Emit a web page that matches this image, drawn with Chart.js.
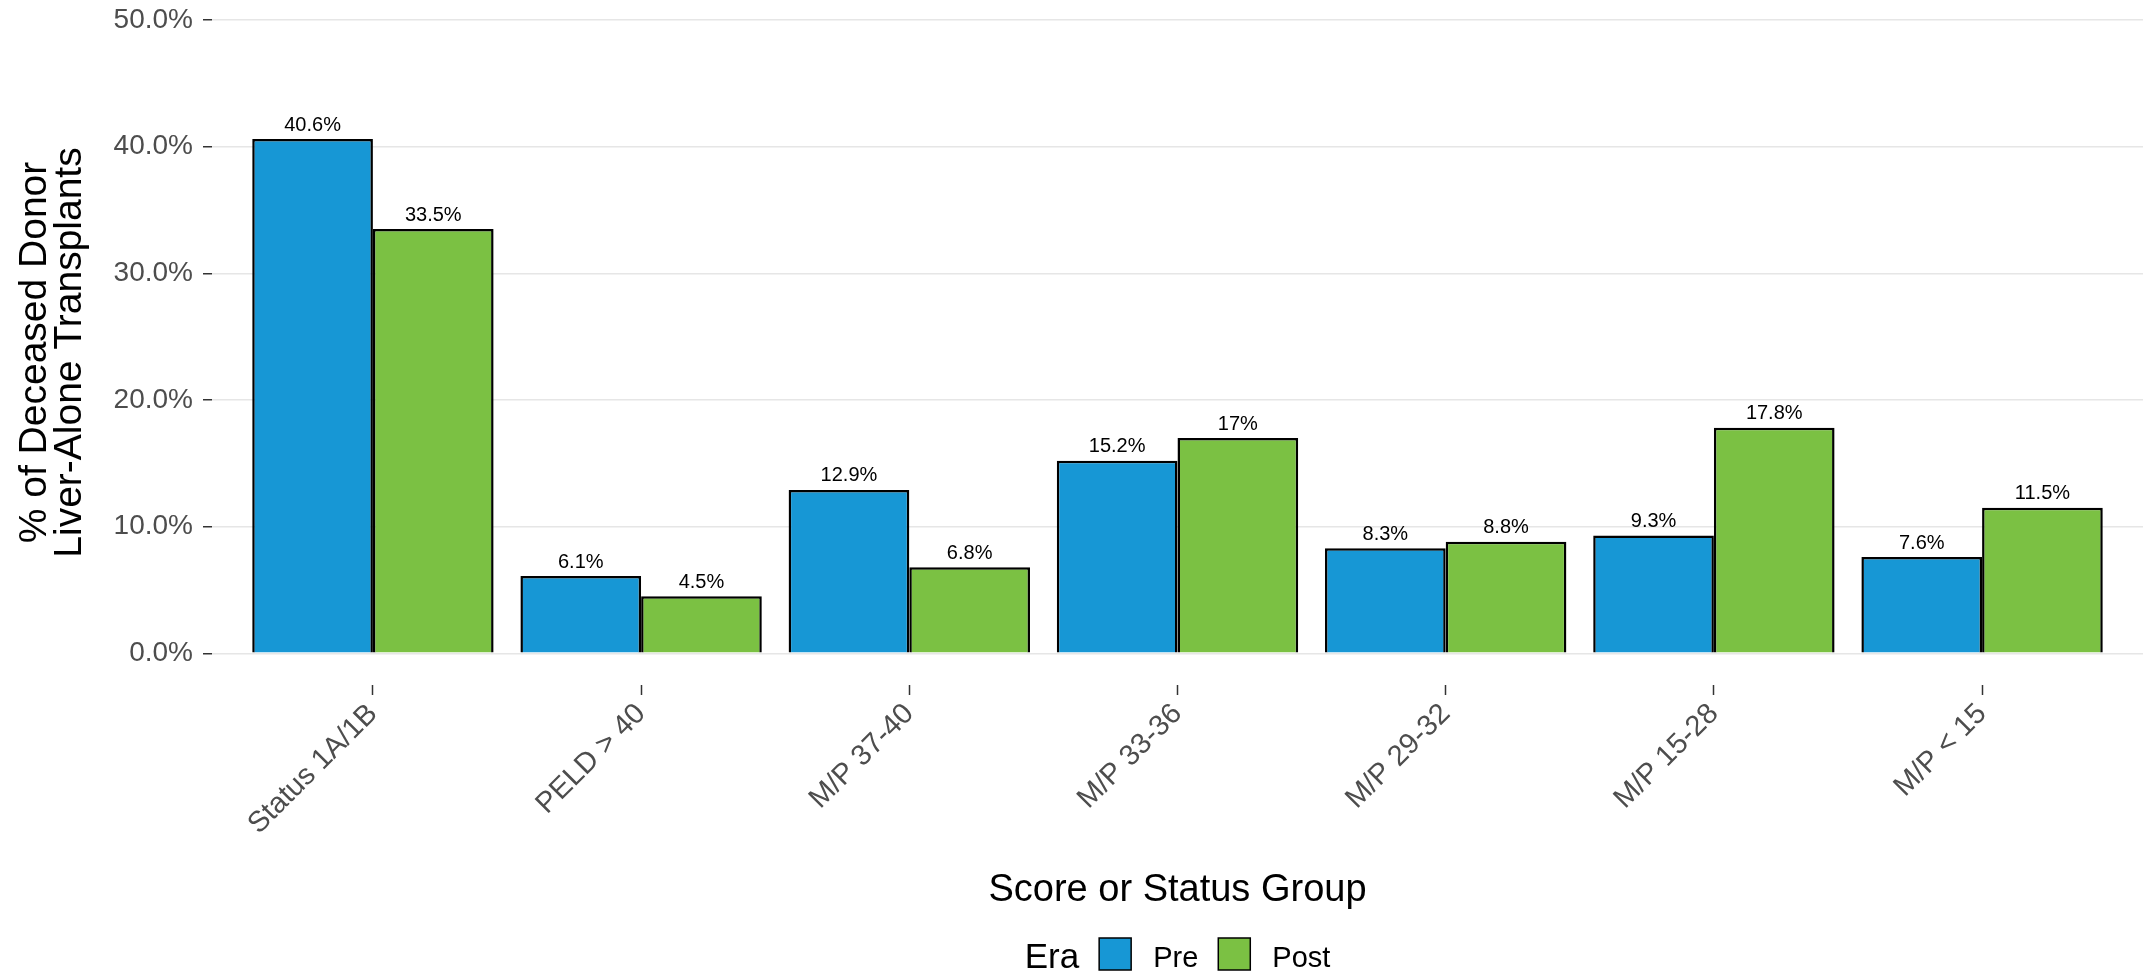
<!DOCTYPE html>
<html lang="en">
<head>
  <meta charset="UTF-8" />
  <title>Deceased Donor Liver-Alone Transplants by Score or Status Group</title>
  <style>
    html, body { margin: 0; padding: 0; background: #fff; }
    canvas { display: block; }
  </style>
</head>
<body>
  <canvas id="eraChart" width="2146" height="974"></canvas>

  <script src="https://cdn.jsdelivr.net/npm/chart.js"></script>
  <script>
    // data
    const categories = ['Status 1A/1B', 'PELD > 40', 'M/P 37-40', 'M/P 33-36', 'M/P 29-32', 'M/P 15-28', 'M/P < 15'];
    const preValues  = [40.6, 6.1, 12.9, 15.2, 8.3, 9.3, 7.6];
    const postValues = [33.5, 4.5, 6.8, 17, 8.8, 17.8, 11.5];
    const yTicks = [0, 10, 20, 30, 40, 50];

    const FONT = "'Liberation Sans', Arial, Helvetica, sans-serif";
    Chart.defaults.font.family = FONT;

    const toPoints = vals => vals.map((v, i) => ({ x: i, y: v }));
    const pctLabel = v => (Number.isInteger(v) ? v : v.toFixed(1)) + '%';

    // percentage text over each bar
    const barLabels = {
      id: 'barLabels',
      afterDatasetsDraw(chart) {
        const ctx = chart.ctx;
        ctx.save();
        ctx.font = '20px ' + FONT;
        ctx.fillStyle = '#000';
        ctx.textAlign = 'center';
        ctx.textBaseline = 'bottom';
        chart.data.datasets.forEach((ds, i) => {
          chart.getDatasetMeta(i).data.forEach((bar, j) => {
            ctx.fillText(pctLabel(ds.data[j].y), bar.x, bar.y - 4);
          });
        });
        ctx.restore();
      }
    };

    // ggplot style legend: "Era [] Pre [] Post" on one row
    const eraLegend = {
      id: 'eraLegend',
      afterDraw(chart) {
        const ctx = chart.ctx;
        const area = chart.chartArea;
        const box = 32, gapTitle = 20, gapText = 22, gapItem = 20;
        const boxTop = chart.height - 36;
        ctx.save();
        ctx.font = '35px ' + FONT;
        const titleW = ctx.measureText('Era').width;
        ctx.font = '29px ' + FONT;
        const items = chart.data.datasets.map(ds => ({ text: ds.label, color: ds.backgroundColor, w: ctx.measureText(ds.label).width }));
        let total = titleW + gapTitle;
        items.forEach((it, k) => { total += box + gapText + it.w + (k < items.length - 1 ? gapItem : 0); });
        let x = (area.left + area.right) / 2 - total / 2;

        ctx.fillStyle = '#000';
        ctx.textBaseline = 'alphabetic';
        ctx.font = '35px ' + FONT;
        ctx.fillText('Era', x, boxTop + 30);
        x += titleW + gapTitle;
        ctx.font = '29px ' + FONT;
        items.forEach(it => {
          ctx.fillStyle = it.color;
          ctx.fillRect(x, boxTop, box, box);
          ctx.strokeStyle = '#000';
          ctx.lineWidth = 1.5;
          ctx.strokeRect(x, boxTop, box, box);
          x += box + gapText;
          ctx.fillStyle = '#000';
          ctx.fillText(it.text, x, boxTop + 29);
          x += it.w + gapItem;
        });
        ctx.restore();
      }
    };

    new Chart(document.getElementById('eraChart'), {
      type: 'bar',
      data: {
        datasets: [
          { label: 'Pre', data: toPoints(preValues), backgroundColor: '#1797d5', borderColor: '#000', borderWidth: 2.5 },
          { label: 'Post', data: toPoints(postValues), backgroundColor: '#7bc143', borderColor: '#000', borderWidth: 2.5 }
        ]
      },
      options: {
        responsive: false,
        animation: false,
        devicePixelRatio: 1,
        categoryPercentage: 0.9,
        barPercentage: 1.0,
        layout: { padding: { top: 20, right: 3, bottom: 61, left: 0 } },
        plugins: {
          legend: { display: false },
          tooltip: { enabled: false }
        },
        scales: {
          x: {
            type: 'linear',
            offset: false,
            min: -0.6,
            max: 6.6,
            afterBuildTicks: scale => { scale.ticks = categories.map((c, i) => ({ value: i })); },
            afterFit: scale => { scale.height = 228; },
            border: { display: false },
            grid: { offset: false, drawOnChartArea: false, drawTicks: true, tickLength: 10, tickColor: '#333', tickWidth: 1.5 },
            ticks: {
              autoSkip: false,
              minRotation: 45,
              maxRotation: 45,
              padding: 2,
              color: '#4d4d4d',
              font: { size: 29 },
              callback: v => categories[v] ?? ''
            },
            title: {
              display: true,
              text: 'Score or Status Group',
              color: '#000',
              font: { size: 38 },
              padding: { top: 0, bottom: 0 }
            }
          },
          y: {
            min: -2.5,
            max: 50,
            afterBuildTicks: scale => { scale.ticks = yTicks.map(v => ({ value: v })); },
            afterFit: scale => { scale.width = 212; scale.paddingTop = 0; scale.paddingBottom = 0; },
            border: { display: false },
            grid: { color: '#e6e6e6', lineWidth: 1.5, tickLength: 9, tickColor: '#333', tickWidth: 1.5 },
            ticks: {
              padding: 10,
              color: '#4d4d4d',
              font: { size: 28 },
              callback: v => v.toFixed(1) + '%'
            },
            title: {
              display: true,
              text: ['% of Deceased Donor', 'Liver-Alone Transplants'],
              color: '#000',
              font: { size: 39, lineHeight: 0.9 },
              padding: { top: 18, bottom: 0 }
            }
          }
        }
      },
      plugins: [barLabels, eraLegend]
    });
  </script>
</body>
</html>
